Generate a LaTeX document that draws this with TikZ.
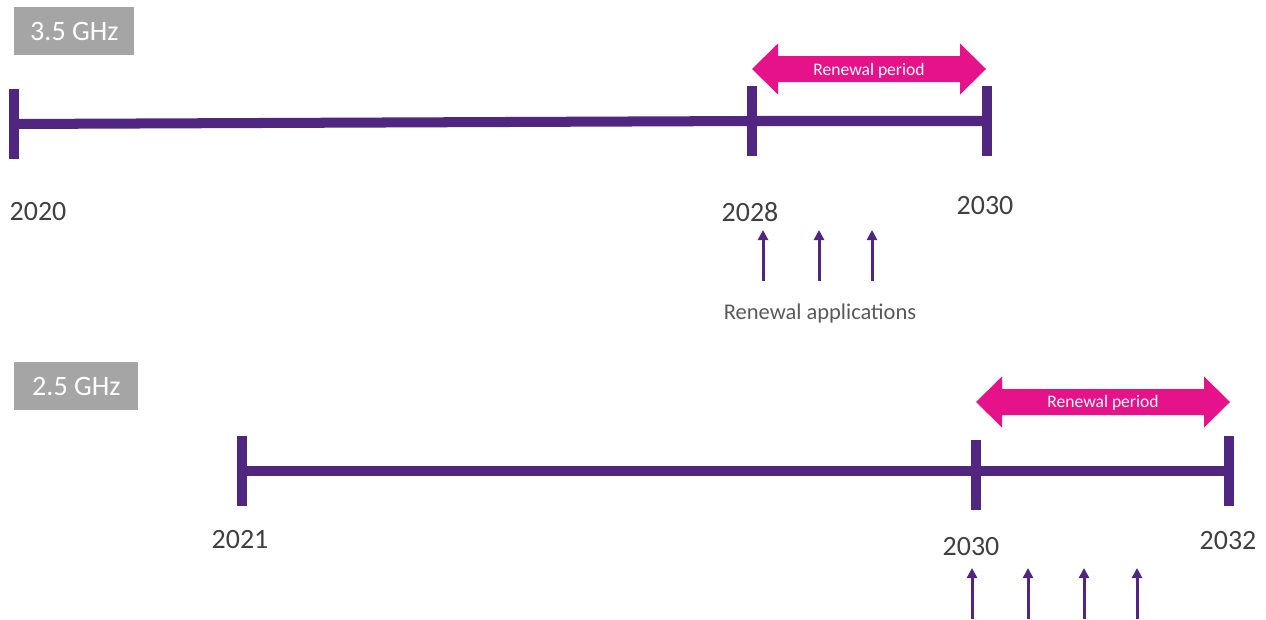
\documentclass[tikz,border=0pt]{standalone}
\usepackage{fontspec}
\setmainfont{Carlito}
\usetikzlibrary{arrows.meta}
\definecolor{band}{RGB}{81,38,128}
\definecolor{renew}{RGB}{230,18,137}
\definecolor{tag}{RGB}{165,165,166}
\definecolor{yeartext}{RGB}{64,64,64}
\definecolor{apptext}{RGB}{89,89,89}

% pink double arrow over the renewal span: left x, right x, mid y
\newcommand{\renewalarrow}[3]{%
  \fill[renew] (#1,#3) -- ({#1+26},{#3-25.5}) -- ({#1+26},{#3-13})
    -- ({#2-26},{#3-13}) -- ({#2-26},{#3-25.5}) -- (#2,#3)
    -- ({#2-26},{#3+25.5}) -- ({#2-26},{#3+13}) -- ({#1+26},{#3+13})
    -- ({#1+26},{#3+25.5}) -- cycle;}

\tikzset{
  timeline/.style={draw=band, line width=5.7pt},
  yeartick/.style={fill=band, inner sep=0pt, minimum width=0.2cm, minimum height=1.4cm},
  year/.style={text=yeartext, inner sep=0pt, font=\fontsize{15.9pt}{18pt}\selectfont},
  band label/.style={fill=tag, text=white, inner sep=0pt, anchor=north west,
    minimum height=0.96cm, font=\fontsize{16pt}{18pt}\selectfont},
  period/.style={text=white, inner sep=0pt, font=\fontsize{10pt}{12pt}\selectfont},
  appl/.style={draw=band, line width=1.7pt, -{Triangle[width=5.8pt,length=5.8pt]}},
}

\begin{document}
\begin{tikzpicture}[x=0.02cm, y=-0.02cm]
    \useasboundingbox (0,0) rectangle (1266,619);

    % 3.5 GHz band
    \node[band label, minimum width=2.4cm] (ghz35) at (14,7) {3.5 GHz};

    \renewalarrow{752}{986}{69}
    \node[period] (rp35) at (869,71) {Renewal period};

    \node[yeartick] (t20) at (14,124) {};
    \node[yeartick] (t28) at (752,121) {};
    \node[yeartick] (t30) at (987,121) {};
    \draw[timeline] (t20.center) -- (t28.center) -- (t30.center);

    \node[year] (y20) at (38,212) {2020};
    \node[year] (y28) at (750,212) {2028};
    \node[year] (y30) at (985,206) {2030};

    \foreach \x [count=\i] in {763,819,872} {
        \coordinate (fa\i) at (\x,281);
        \coordinate (ta\i) at (\x,230);
        \draw[appl] (fa\i) -- (ta\i);
    }
    \node[text=apptext, inner sep=0pt, font=\fontsize{12.8pt}{15pt}\selectfont]
        (apps) at (820,313) {Renewal applications};

    % 2.5 GHz band
    \node[band label, minimum width=2.48cm] (ghz25) at (14,362) {2.5 GHz};

    \renewalarrow{976}{1230}{402}
    \node[period] (rp25) at (1103,403) {Renewal period};

    \node[yeartick] (t21) at (242,471) {};
    \node[yeartick] (u30) at (976,475) {};
    \node[yeartick] (t32) at (1229,471) {};
    \draw[timeline] (t21.center) -- (u30.center |- t21.center) -- (t32.center);

    \node[year] (y21) at (240,540) {2021};
    \node[year] (z30) at (971,547) {2030};
    \node[year] (y32) at (1228,541) {2032};

    \foreach \x [count=\i] in {972,1028,1084,1137} {
        \coordinate (fb\i) at (\x,619);
        \coordinate (tb\i) at (\x,568);
        \draw[appl] (fb\i) -- (tb\i);
    }
\end{tikzpicture}
\end{document}
